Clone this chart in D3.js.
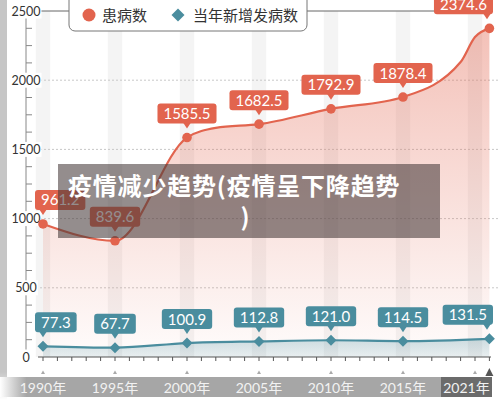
<!DOCTYPE html>
<html><head><meta charset="utf-8">
<script src="https://cdn.jsdelivr.net/npm/d3@7"></script>
<style>
html,body{margin:0;padding:0;background:#fff;}
svg{display:block;font-family:Lato,"Noto Sans CJK SC",sans-serif;}
</style></head>
<body>
<svg id="c" width="500" height="403"></svg>
<script>
// ---- data ----
const years = [1990, 1995, 2000, 2005, 2010, 2015, 2021];
const patients = [961.2, 839.6, 1585.5, 1682.5, 1792.9, 1878.4, 2374.6];
const newCases = [77.3, 67.7, 100.9, 112.8, 121.0, 114.5, 131.5];
// unlabeled points
const extraYears = [2002, 2019, 2020];
const extraPatients = [1655, 2131, 2312];
const stripeYears = [1990, 1995, 2000, 2005, 2010, 2015, 2020];
const yTicks = [0, 500, 1000, 1500, 2000, 2500];
const xLabels = ["1990年", "1995年", "2000年", "2005年", "2010年", "2015年", "2021年"];
const legendNames = ["患病数", "当年新增发病数"];
const titleLines = ["疫情减少趋势(疫情呈下降趋势", ")"];

const red = "#e2644e", teal = "#4a8d9e";
const svg = d3.select("#c");
const x = d3.scaleLinear().domain([1990, 2021]).range([43, 489.4]);
const y = d3.scaleLinear().domain([0, 2500]).range([357, 11]);

const defs = svg.append("defs");
const gR = defs.append("linearGradient").attr("id","gR")
  .attr("gradientUnits","userSpaceOnUse").attr("y1",y(2500)).attr("y2",y(0)).attr("x1",0).attr("x2",0);
gR.append("stop").attr("offset",0).attr("stop-color",red).attr("stop-opacity",0.42);
gR.append("stop").attr("offset",1).attr("stop-color",red).attr("stop-opacity",0.02);
const gT = defs.append("linearGradient").attr("id","gT").attr("gradientUnits","userSpaceOnUse")
  .attr("x1",0).attr("x2",0).attr("y1",y(140)).attr("y2",y(0));
gT.append("stop").attr("offset",0).attr("stop-color",teal).attr("stop-opacity",0.28);
gT.append("stop").attr("offset",1).attr("stop-color",teal).attr("stop-opacity",0.12);
const gB = defs.append("linearGradient").attr("id","gB");
gB.append("stop").attr("offset",0).attr("stop-color","#fff");
gB.append("stop").attr("offset",0.06).attr("stop-color","#a6a6a6");
gB.append("stop").attr("offset",1).attr("stop-color","#a6a6a6");
const gL = defs.append("linearGradient").attr("id","gL").attr("x1",0).attr("x2",0).attr("y1",0).attr("y2",1);
gL.append("stop").attr("offset",0).attr("stop-color","#c6c6c6");
gL.append("stop").attr("offset",0.93).attr("stop-color","#c6c6c6");
gL.append("stop").attr("offset",1).attr("stop-color","#fff");

// left strip
svg.append("rect").attr("x",0).attr("y",0).attr("width",7).attr("height",400).attr("fill","url(#gL)");

// stripes
svg.append("g").selectAll("rect").data(stripeYears).join("rect")
  .attr("x", d => x(d - 0.5)).attr("width", x(1991)-x(1990))
  .attr("y", y(2500)).attr("height", y(0)-y(2500)).attr("fill","#f4f4f4");

// gridlines
svg.append("g").selectAll("line").data(yTicks.filter(d => d>0 && d<2500)).join("line")
  .attr("x1",40).attr("x2",500).attr("y1",d=>y(d)).attr("y2",d=>y(d))
  .attr("stroke","#c8c8c8").attr("stroke-dasharray","2,2");
svg.append("line").attr("x1",40).attr("x2",441).attr("y1",y(2500)).attr("y2",y(2500)).attr("stroke","#666");

// series
const redPts = years.map((d,i)=>({x:d,v:patients[i]}))
  .concat(extraYears.map((d,i)=>({x:d,v:extraPatients[i]}))).sort((a,b)=>a.x-b.x);
const tealPts = years.map((d,i)=>({x:d,v:newCases[i]}));
const curve = d3.curveMonotoneX;
const area = d3.area().x(d=>x(d.x)).y0(y(0)).y1(d=>y(d.v)).curve(curve);
const line = d3.line().x(d=>x(d.x)).y(d=>y(d.v)).curve(curve);

svg.append("path").datum(redPts).attr("d",area).attr("fill","url(#gR)");
svg.append("path").datum(tealPts).attr("d",area).attr("fill","url(#gT)");
svg.append("path").datum(redPts).attr("d",line).attr("fill","none").attr("stroke",red).attr("stroke-width",2.2);
svg.append("path").datum(tealPts).attr("d",line).attr("fill","none").attr("stroke",teal).attr("stroke-width",2.2);

// y axis
const ya = svg.append("g");
ya.append("line").attr("x1",26).attr("x2",26).attr("y1",y(2500)).attr("y2",y(0)).attr("stroke","#888");
const minor = d3.range(125, 2500, 125).filter(d => d % 500 !== 0);
ya.selectAll("line.m").data(minor).join("line").attr("class","m")
  .attr("x1",26).attr("x2",32).attr("y1",d=>y(d)).attr("y2",d=>y(d)).attr("stroke","#888");
yTicks.forEach(t => {
  const txt = ya.append("text").attr("x",26).attr("y",y(t)+4.5).attr("text-anchor","middle")
    .attr("font-size",12.5).attr("fill","#333").text(t);
  const bb = txt.node().getBBox();
  ya.insert("rect","text").attr("x",bb.x-1).attr("y",bb.y).attr("width",bb.width+2).attr("height",bb.height).attr("fill","#fff");
});

// x axis
const xa = svg.append("g");
xa.append("line").attr("x1",38).attr("x2",491).attr("y1",y(0)).attr("y2",y(0)).attr("stroke","#555").attr("stroke-width",1.2);
xa.selectAll("line.t").data(d3.range(1990, 2022)).join("line").attr("class","t")
  .attr("x1",d=>x(d)).attr("x2",d=>x(d)).attr("y1",y(0)).attr("y2",y(0)+4).attr("stroke","#555");
xa.selectAll("path.tri").data(stripeYears).join("path").attr("class","tri")
  .attr("d", d => `M${x(d)-2},374 L${x(d)+2},374 L${x(d)},370.5 Z`).attr("fill","#aaa");
xa.append("path").attr("d",`M${x(2021)-4},376 L${x(2021)+4},376 L${x(2021)},368 Z`).attr("fill","#555");
xa.append("rect").attr("x",0).attr("y",377).attr("width",441).attr("height",20).attr("fill","url(#gB)");
xa.append("rect").attr("x",441).attr("y",377).attr("width",51).attr("height",20).attr("fill","#6b6b6b");
xa.selectAll("text").data(years).join("text")
  .attr("x",(d,i)=> i === years.length-1 ? 466.5 : x(d)).attr("y",392.5)
  .attr("text-anchor","middle").attr("font-size",14).attr("fill","#f2f2f2").text((d,i)=>xLabels[i]);

// markers
svg.append("g").selectAll("circle").data(years).join("circle")
  .attr("cx",d=>x(d)).attr("cy",(d,i)=>y(patients[i])).attr("r",4.8).attr("fill",red);
svg.append("g").selectAll("path").data(years).join("path")
  .attr("d",(d,i)=>{const cx=x(d), cy=y(newCases[i]), s=5.5; return `M${cx},${cy-s} L${cx+s},${cy} L${cx},${cy+s} L${cx-s},${cy} Z`;})
  .attr("fill",teal);

// labels
function labels(vals, color){
  const g = svg.append("g");
  years.forEach((d,i)=>{
    const px = x(d), py = y(vals[i]);
    const txt = g.append("text").attr("font-size",15).attr("fill","#fff").attr("text-anchor","middle").text(vals[i].toFixed(1));
    const w = txt.node().getComputedTextLength() + 12, h = 20;
    let bx = px - w/2; bx = Math.max(35, Math.min(493 - w, bx));
    const by = py - 14 - h;
    const tipX = Math.max(bx+6, Math.min(bx+w-6, px));
    g.insert("path","text").attr("d",`M${tipX-4},${by+h-1} L${tipX+4},${by+h-1} L${tipX},${by+h+5} Z`).attr("fill",color);
    g.insert("rect","text").attr("x",bx).attr("y",by).attr("width",w).attr("height",h).attr("rx",3).attr("fill",color);
    txt.attr("x",bx+w/2).attr("y",by+15.5);
  });
}
labels(patients, red);
labels(newCases, teal);

// legend
const lg = svg.append("g");
lg.append("rect").attr("x",69).attr("y",-6).attr("width",238).attr("height",37).attr("rx",6)
  .attr("fill","#fff").attr("stroke","#777");
lg.append("circle").attr("cx",89).attr("cy",15).attr("r",6.5).attr("fill",red);
lg.append("text").attr("x",102).attr("y",20.5).attr("font-size",15).attr("fill","#333").text(legendNames[0]);
lg.append("path").attr("d","M178,8.5 L184.5,15 L178,21.5 L171.5,15 Z").attr("fill",teal);
lg.append("text").attr("x",193).attr("y",20.5).attr("font-size",15).attr("fill","#333").text(legendNames[1]);

// title overlay
const tg = svg.append("g");
tg.append("rect").attr("x",58).attr("y",164).attr("width",382).attr("height",74).attr("fill","rgb(70,58,58)").attr("fill-opacity",0.58);
tg.append("text").attr("x",68).attr("y",195).attr("font-size",24).attr("font-weight","bold").attr("fill","#fff")
  .attr("letter-spacing",0.8).attr("font-family","'Noto Sans CJK SC',sans-serif").text(titleLines[0]);
tg.append("text").attr("x",245).attr("y",226).attr("text-anchor","middle").attr("font-size",24).attr("font-weight","bold").attr("fill","#fff")
  .attr("font-family","'Noto Sans CJK SC',sans-serif").text(titleLines[1]);
</script>
</body></html>
